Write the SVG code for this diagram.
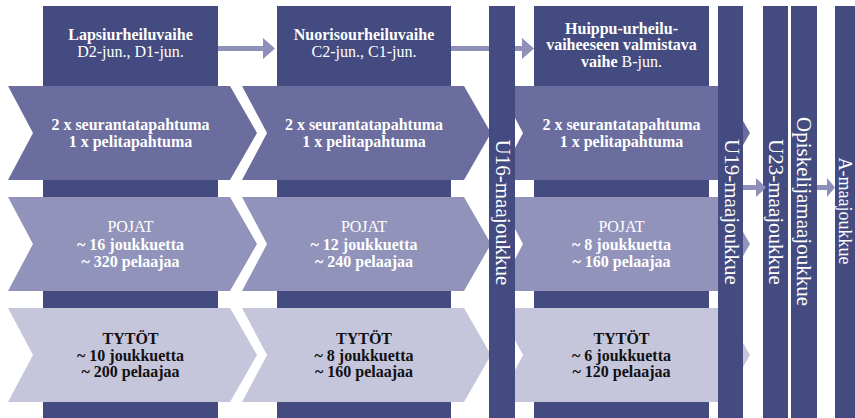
<svg xmlns="http://www.w3.org/2000/svg" width="855" height="418" viewBox="0 0 855 418">
<style>
.dark{fill:#434b80}
.r1{fill:#6b6d9e}
.r2{fill:#9193ba}
.r3{fill:#c5c5dc}
.arw{fill:#8e90b9}
text{font-family:"Liberation Serif","Times New Roman",serif;font-size:16px;text-anchor:middle}
.w{fill:#ffffff}
.k{fill:#111111}
.b{font-weight:bold}
.v{font-size:21px;fill:#ffffff;text-anchor:middle}
</style>
<defs>
<path id="chev1" d="M0,0 H222 L249,47 L222,94 H0 L25,47 Z"/>
</defs>
<rect width="855" height="418" fill="#ffffff"/>
<g id="col-lapsi">
<rect class="dark" x="43" y="6" width="175" height="412"/>
<text class="w b" x="130.5" y="40">Lapsiurheiluvaihe</text>
<text class="w" x="130.5" y="57">D2-jun., D1-jun.</text>
</g>
<g id="col-nuoriso">
<rect class="dark" x="277" y="6" width="174" height="412"/>
<text class="w b" x="364" y="40">Nuorisourheiluvaihe</text>
<text class="w" x="364" y="57">C2-jun., C1-jun.</text>
</g>
<g id="col-huippu">
<rect class="dark" x="534" y="6" width="175" height="412"/>
<text class="w b" x="621.5" y="33.5">Huippu-urheilu-</text>
<text class="w b" x="621.5" y="50">vaiheeseen valmistava</text>
<text class="w" x="621.5" y="66.5"><tspan class="b">vaihe</tspan> B-jun.</text>
</g>
<g id="connectors">
<path class="arw" d="M218,46 H263 V38 L275,48.5 L263,59 V51 H218 Z"/>
<path class="arw" d="M451,46 H522 V38 L534,48.5 L522,59 V51 H451 Z"/>
</g>
<g id="row1-lapsi">
<use href="#chev1" class="r1" x="8" y="86"/>
<text class="w b" x="130.5" y="130">2 x seurantatapahtuma</text>
<text class="w b" x="130.5" y="146.7">1 x pelitapahtuma</text>
</g>
<g id="row1-nuoriso">
<use href="#chev1" class="r1" x="242" y="86"/>
<text class="w b" x="364" y="130">2 x seurantatapahtuma</text>
<text class="w b" x="364" y="146.7">1 x pelitapahtuma</text>
</g>
<g id="row1-huippu">
<path class="r1" d="M498,86 H723 L750,133 L723,180 H498 L523,133 Z"/>
<text class="w b" x="621.5" y="130">2 x seurantatapahtuma</text>
<text class="w b" x="621.5" y="146.7">1 x pelitapahtuma</text>
</g>
<g id="row2-lapsi">
<use href="#chev1" class="r2" x="8" y="197"/>
<text class="w" x="130.5" y="232">POJAT</text>
<text class="w b" x="130.5" y="249.5">~ 16 joukkuetta</text>
<text class="w b" x="130.5" y="266.5">~ 320 pelaajaa</text>
</g>
<g id="row2-nuoriso">
<use href="#chev1" class="r2" x="242" y="197"/>
<text class="w" x="364" y="232">POJAT</text>
<text class="w b" x="364" y="249.5">~ 12 joukkuetta</text>
<text class="w b" x="364" y="266.5">~ 240 pelaajaa</text>
</g>
<g id="row2-huippu">
<path class="r2" d="M498,197 H723 L750,244 L723,291 H498 L523,244 Z"/>
<text class="w" x="621.5" y="232">POJAT</text>
<text class="w b" x="621.5" y="249.5">~ 8 joukkuetta</text>
<text class="w b" x="621.5" y="266.5">~ 160 pelaajaa</text>
</g>
<g id="row3-lapsi">
<use href="#chev1" class="r3" x="8" y="308"/>
<text class="k b" x="130.5" y="344">TYTÖT</text>
<text class="k b" x="130.5" y="360.7">~ 10 joukkuetta</text>
<text class="k b" x="130.5" y="377.3">~ 200 pelaajaa</text>
</g>
<g id="row3-nuoriso">
<use href="#chev1" class="r3" x="242" y="308"/>
<text class="k b" x="364" y="344">TYTÖT</text>
<text class="k b" x="364" y="360.7">~ 8 joukkuetta</text>
<text class="k b" x="364" y="377.3">~ 160 pelaajaa</text>
</g>
<g id="row3-huippu">
<path class="r3" d="M498,308 H723 L750,355 L723,402 H498 L523,355 Z"/>
<text class="k b" x="621.5" y="344">TYTÖT</text>
<text class="k b" x="621.5" y="360.7">~ 6 joukkuetta</text>
<text class="k b" x="621.5" y="377.3">~ 120 pelaajaa</text>
</g>
<g id="bar-u16">
<rect class="dark" x="489" y="6" width="26" height="412"/>
<text class="v" transform="translate(495.5,212.5) rotate(90)">U16-maajoukkue</text>
</g>
<g id="bar-u19">
<rect class="dark" x="718" y="6" width="25" height="412"/>
<text class="v" transform="translate(724.5,212) rotate(90)">U19-maajoukkue</text>
</g>
<g id="bar-u23">
<rect class="dark" x="763" y="6" width="25" height="412"/>
<text class="v" transform="translate(768.5,212) rotate(90)">U23-maajoukkue</text>
</g>
<g id="bar-opiskelija">
<rect class="dark" x="791" y="6" width="26" height="412"/>
<text class="v" transform="translate(797,211.5) rotate(90)">Opiskelijamaajoukkue</text>
</g>
<g id="bar-a">
<rect class="dark" x="835" y="6" width="29" height="412"/>
<text class="v" style="font-size:18px" transform="translate(838.5,211) rotate(90)">A-maajoukkue</text>
</g>
<g id="connectors-small">
<path class="arw" d="M743,185 H756 V178 L766,187.5 L756,197 V190 H743 Z"/>
<path class="arw" d="M817,185 H827 V178 L835,187.5 L827,197 V190 H817 Z"/>
</g>
</svg>
